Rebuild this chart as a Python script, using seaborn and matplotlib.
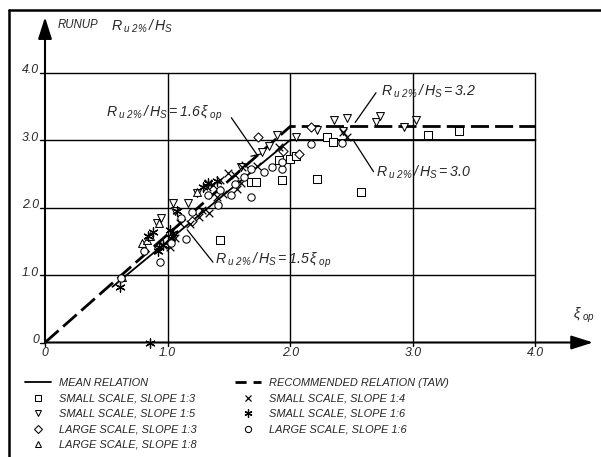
import numpy as np
import pandas as pd
import matplotlib
matplotlib.use("Agg")
import matplotlib.pyplot as plt
from matplotlib.lines import Line2D
import seaborn as sns

# ---------------- data ----------------
sq13_x = [1.43, 1.68, 1.72, 1.91, 1.93, 2.00, 2.05, 2.22, 2.30, 2.35, 2.58, 3.12, 3.38]
sq13_y = [1.52, 2.38, 2.38, 2.70, 2.41, 2.72, 2.77, 2.42, 3.04, 2.97, 2.23, 3.07, 3.13]

sq15_x = [0.91, 0.95, 1.04, 1.06, 1.17, 1.24, 1.60, 1.77, 1.83, 1.89, 2.05, 2.22, 2.36, 2.43, 2.46, 2.70, 2.73, 2.93, 3.03]
sq15_y = [1.77, 1.84, 2.07, 1.95, 2.07, 2.21, 2.60, 2.82, 2.91, 3.07, 3.05, 3.15, 3.30, 3.13, 3.32, 3.26, 3.35, 3.19, 3.30]

lg13_x = [1.74, 1.94, 2.07, 2.17, 1.20]
lg13_y = [3.05, 2.84, 2.79, 3.20, 1.80]

lg18_x = [0.63, 0.79, 0.83, 0.86, 0.93, 1.24]
lg18_y = [0.97, 1.47, 1.52, 1.58, 1.77, 2.23]

sq14_x = [0.92, 0.96, 1.02, 1.06, 1.10, 1.18, 1.26, 1.28, 1.34, 1.32, 1.33, 1.37, 1.43, 1.49, 1.55, 1.57, 1.60, 1.61, 1.63, 1.73, 1.91, 2.43, 2.46, 1.45, 1.40]
sq14_y = [1.37, 1.45, 1.42, 1.55, 1.77, 1.75, 1.86, 1.97, 1.92, 2.30, 2.36, 2.33, 2.41, 2.51, 2.48, 2.27, 2.36, 2.60, 2.63, 2.62, 2.90, 3.12, 3.05, 2.20, 2.15]

sq16_x = [0.61, 0.86, 0.84, 0.88, 0.92, 0.93, 0.96, 1.02, 1.04, 1.03, 1.08, 1.29, 1.33, 1.40]
sq16_y = [0.82, 0.00, 1.58, 1.64, 1.36, 1.41, 1.45, 1.66, 1.62, 1.55, 1.95, 2.31, 2.37, 2.39]

lg16_x = [0.62, 0.81, 0.94, 1.03, 1.11, 1.15, 1.20, 1.33, 1.41, 1.43, 1.52, 1.68, 1.68, 1.79, 1.85, 1.93, 1.93, 2.17, 2.42, 1.55, 1.62]
lg16_y = [0.96, 1.35, 1.20, 1.47, 1.84, 1.54, 1.93, 2.18, 2.04, 2.26, 2.18, 2.15, 2.57, 2.52, 2.60, 2.57, 2.67, 2.94, 2.95, 2.35, 2.45]

mean_x = [0.55, 2.0, 4.0]
mean_y = [0.825, 3.0, 3.0]
rec_x = [0.0, 2.0, 4.0]
rec_y = [0.0, 3.2, 3.2]

x_ticks = [0, 1.0, 2.0, 3.0, 4.0]
x_tick_labels = ["0", "1.0", "2.0", "3.0", "4.0"]
y_ticks = [0, 1.0, 2.0, 3.0, 4.0]
y_tick_labels = ["0", "1.0", "2.0", "3.0", "4.0"]

series = [
    ("SMALL SCALE, SLOPE 1:3", sq13_x, sq13_y, "s", True),
    ("SMALL SCALE, SLOPE 1:5", sq15_x, sq15_y, "v", True),
    ("LARGE SCALE, SLOPE 1:3", lg13_x, lg13_y, "D", True),
    ("LARGE SCALE, SLOPE 1:8", lg18_x, lg18_y, "^", True),
    ("SMALL SCALE, SLOPE 1:4", sq14_x, sq14_y, "x", False),
    ("SMALL SCALE, SLOPE 1:6", sq16_x, sq16_y, (6, 2, 0), False),
    ("LARGE SCALE, SLOPE 1:6", lg16_x, lg16_y, "o", True),
]

# ---------------- style ----------------
sns.set_theme(style="white")
plt.rcParams["font.family"] = ["Liberation Sans", "DejaVu Sans"]
plt.rcParams["font.style"] = "italic"
plt.rcParams["mathtext.fontset"] = "custom"
plt.rcParams["mathtext.it"] = "Liberation Sans:italic"
plt.rcParams["mathtext.rm"] = "Liberation Sans:italic"
plt.rcParams["mathtext.sf"] = "Liberation Sans:italic"

W, H = 601, 457
fig = plt.figure(figsize=(W / 100, H / 100), dpi=100)
fig.patch.set_facecolor("white")

# pixel geometry: x0=45px, 122.6 px/unit; y0=342.5px, 67.5 px/unit
x0, sx = 45.0, 122.6
y0, sy = 342.5, 67.5
xlim = (-0.3, (W - x0) / sx)
ylim = (-(H - y0) / sy, y0 / sy)
left = (x0 + xlim[0] * sx) / W
ax = fig.add_axes([left, 0.0, 1 - left, 1.0])
ax.set_xlim(*xlim)
ax.set_ylim(*ylim)
ax.axis("off")

# figure frame (left and top)
fig.add_artist(Line2D([9 / W, 9 / W], [0, 1 - 10 / H], color="black", lw=1.8, transform=fig.transFigure))
fig.add_artist(Line2D([9 / W, 1], [1 - 10 / H, 1 - 10 / H], color="black", lw=1.8, transform=fig.transFigure))

# grid
for v in x_ticks[1:]:
    ax.plot([v, v], [0, 4.0], color="black", lw=1.0, zorder=1)
for v in y_ticks[1:]:
    ax.plot([0, 4.0], [v, v], color="black", lw=1.0, zorder=1)

# axes with arrows
ax.annotate("", xy=(4.47, 0), xytext=(0, 0),
            arrowprops=dict(arrowstyle="-|>,head_length=1.1,head_width=0.35", color="black", lw=1.5,
                            shrinkA=0, shrinkB=0), zorder=3)
ax.annotate("", xy=(0, 4.82), xytext=(0, 0),
            arrowprops=dict(arrowstyle="-|>,head_length=1.1,head_width=0.35", color="black", lw=1.5,
                            shrinkA=0, shrinkB=0), zorder=3)

# tick labels & tiny ticks
fs = 7.9
tfs = 8.8
for v, lab in zip(y_ticks, y_tick_labels):
    ax.text(-0.05, v + 0.03, lab, ha="right", va="center", fontsize=tfs, style="italic")
    ax.plot([-0.04, 0], [v, v], color="black", lw=1.0)
for v, lab in zip(x_ticks, x_tick_labels):
    ax.text(v, -0.07, lab, ha="center", va="top", fontsize=tfs, style="italic")
    ax.plot([v, v], [-0.05, 0], color="black", lw=1.0)

# relations
df_mean = pd.DataFrame({"x": mean_x, "y": mean_y})
df_rec = pd.DataFrame({"x": rec_x, "y": rec_y})
sns.lineplot(data=df_mean, x="x", y="y", ax=ax, color="black", lw=1.3, sort=False,
             estimator=None, legend=False, zorder=4)
sns.lineplot(data=df_rec, x="x", y="y", ax=ax, color="black", lw=2.0, sort=False,
             estimator=None, legend=False, zorder=4, dashes=False)
ax.lines[-1].set_dashes((6.5, 2.2))

# data points
handles_pts = []
for label, xs, ys, mk, filled in series:
    d = pd.DataFrame({"x": xs, "y": ys})
    if filled:
        size = 28 if mk != "D" else 22
        if mk in ("v", "^"):
            size = 32
        sns.scatterplot(data=d, x="x", y="y", ax=ax, marker=mk, s=size, facecolor="white",
                        edgecolor="black", linewidth=0.75, legend=False, zorder=5)
        h = Line2D([], [], ls="none", marker=mk, markersize=np.sqrt(size) * 0.85,
                   markerfacecolor="white", markeredgecolor="black", markeredgewidth=0.75)
    else:
        size = 30 if mk == "x" else 45
        sns.scatterplot(data=d, x="x", y="y", ax=ax, marker=mk, s=size, color="black",
                        linewidth=0.9, legend=False, zorder=5)
        h = Line2D([], [], ls="none", marker=mk, markersize=np.sqrt(size) * 0.85,
                   color="black", markeredgewidth=0.9)
    handles_pts.append((h, label))

ax.set_xlabel("")
ax.set_ylabel("")

# annotations
ann_fs = 10.2
lab = r"$R\,_{u\ 2\%}\,/\,H_S$"
ax.text(0.10, 4.70, "RUNUP", fontsize=8.3, style="italic", va="center", ha="left")
ax.text(0.54, 4.69, lab, fontsize=ann_fs, va="center", ha="left")
ax.text(4.31, 0.40, r"$\xi_{\ op}$", fontsize=ann_fs, va="center", ha="left")

ax.text(0.50, 3.40, lab + r"$= 1.6\,\xi_{\ op}$", fontsize=ann_fs, va="center", ha="left")
ax.plot([1.52, 1.73], [3.33, 2.78], color="black", lw=0.9)
ax.plot([1.68, 1.78], [2.76, 2.80], color="black", lw=0.9)

ax.text(2.74, 3.72, lab + r"$= 3.2$", fontsize=ann_fs, va="center", ha="left")
ax.plot([2.70, 2.53], [3.70, 3.26], color="black", lw=0.9)

ax.text(2.70, 2.52, lab + r"$= 3.0$", fontsize=ann_fs, va="center", ha="left")
ax.plot([2.68, 2.51], [2.53, 3.01], color="black", lw=0.9)

ax.text(1.39, 1.22, lab + r"$= 1.5\,\xi_{\ op}$", fontsize=ann_fs, va="center", ha="left")
ax.plot([1.37, 1.16], [1.19, 1.67], color="black", lw=0.9)

# legend
h_mean = Line2D([], [], color="black", lw=1.3)
h_rec = Line2D([], [], color="black", lw=2.0, dashes=(4, 2.5))
hl = [(h_mean, "MEAN RELATION")] + handles_pts[:4] + [(h_rec, "RECOMMENDED RELATION (TAW)")] + handles_pts[4:]
leg = fig.legend([h for h, _ in hl], [l for _, l in hl], ncol=2, loc="upper left",
                 bbox_to_anchor=(25 / W, 1 - 378 / H), frameon=False,
                 handlelength=2.4, handletextpad=0.7, columnspacing=3.5, labelspacing=0.5,
                 borderpad=0, borderaxespad=0, prop=dict(style="italic", size=fs))

fig.savefig("out.png", dpi=100, facecolor="white")
